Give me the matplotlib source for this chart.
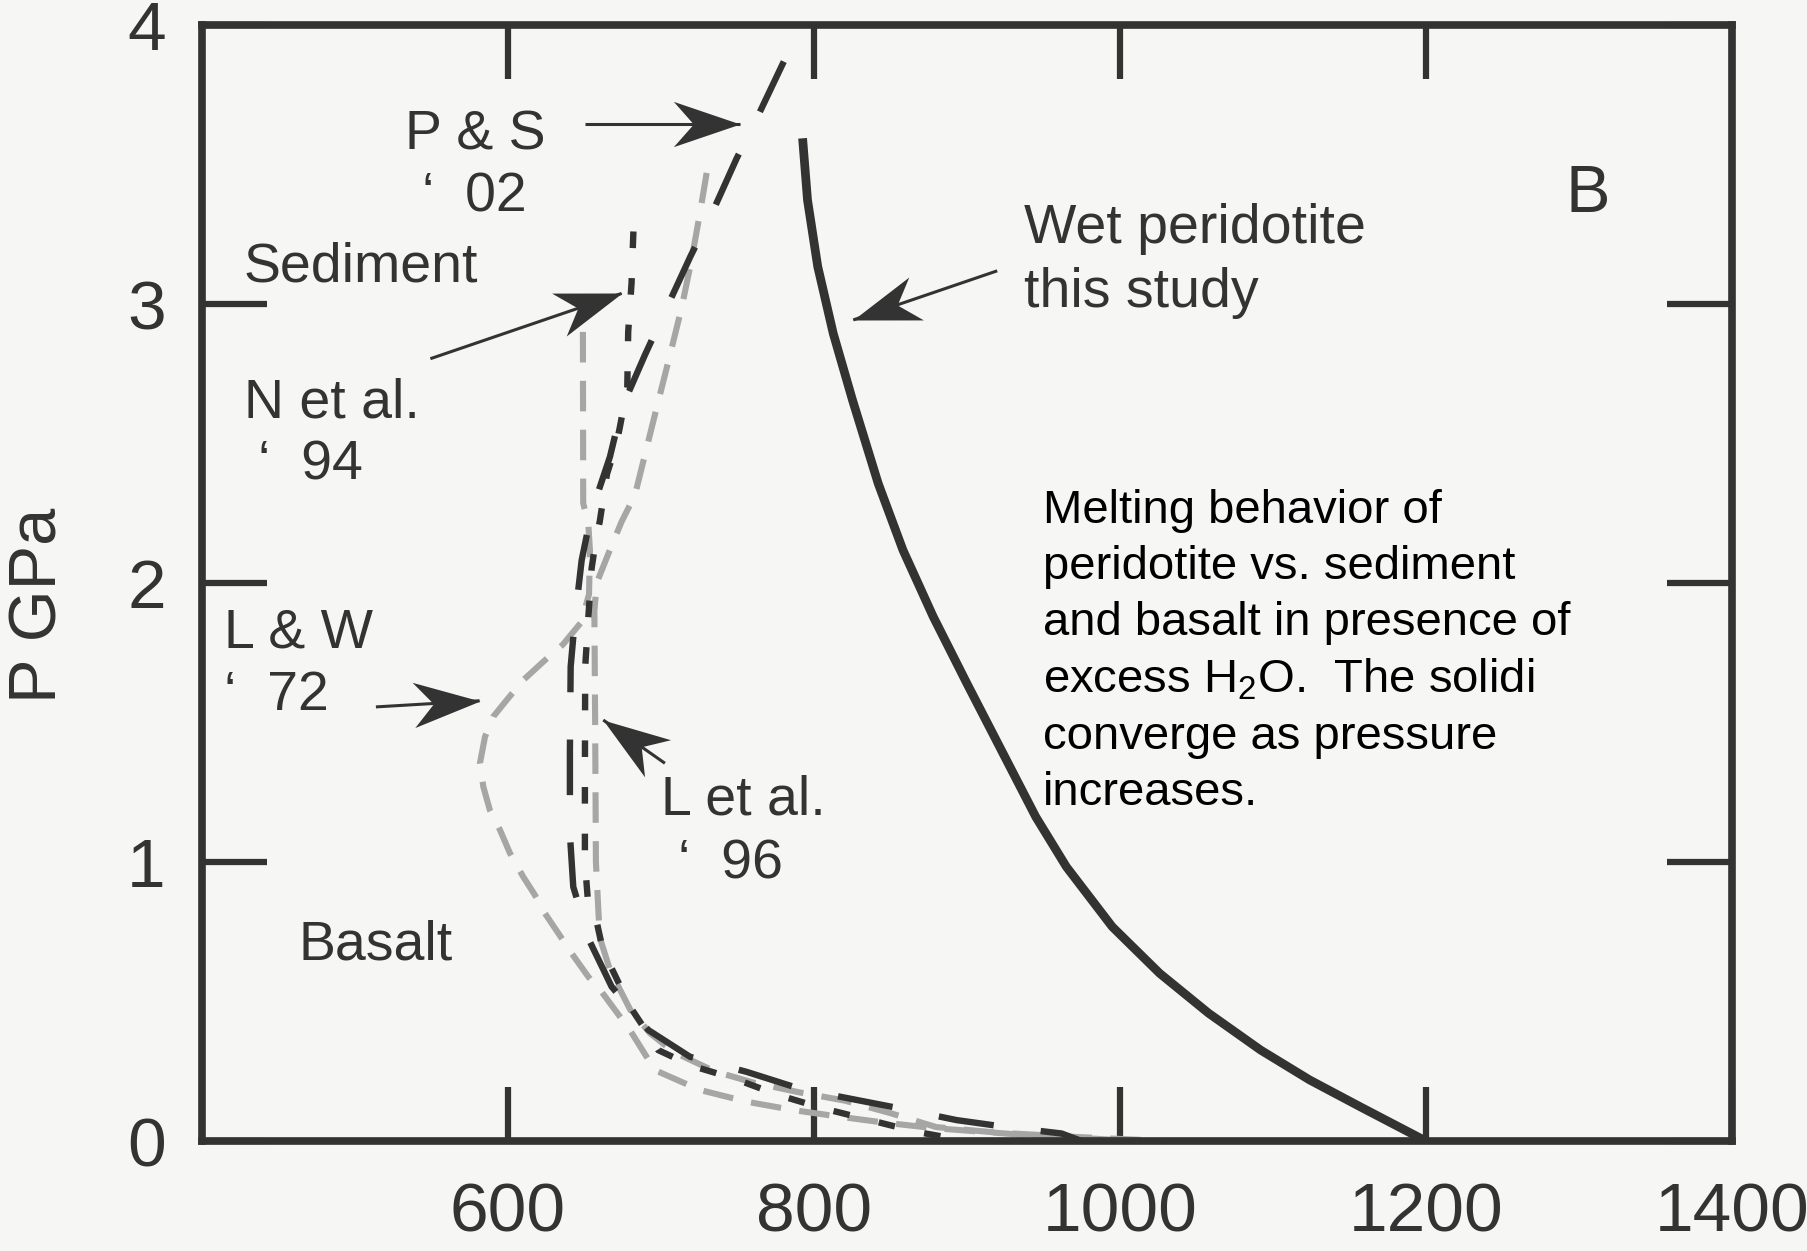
import matplotlib
matplotlib.use("Agg")
import numpy as np
import matplotlib.pyplot as plt
from matplotlib.path import Path
from matplotlib.markers import MarkerStyle
from matplotlib.transforms import Affine2D

plt.rcParams['font.family'] = ['Liberation Sans', 'DejaVu Sans']
plt.rcParams['mathtext.fontset'] = 'custom'
plt.rcParams['mathtext.rm'] = 'Liberation Sans'
plt.rcParams['mathtext.it'] = 'Liberation Sans:italic'

ink = "#333333"
grey = "#a6a6a6"
paper = "#f6f6f4"

# wet peridotite solidus, this study (T in C, P in GPa)
wet_T = [792.6, 795.8, 802.5, 812.6, 825.2, 842.0, 858.2, 878.0, 900.0, 922.5,
         945.0, 965.0, 995.0, 1026.0, 1058.0, 1092.0, 1124.0, 1157.0, 1200.0]
wet_P = [3.594, 3.373, 3.134, 2.895, 2.656, 2.357, 2.118, 1.879, 1.640, 1.401,
         1.162, 0.983, 0.768, 0.601, 0.458, 0.326, 0.219, 0.123, 0.0]

# P & S '02 sediment solidus
ps_T = [780.3, 764.0, 749.5, 733.8, 719.4, 703.3, 689.5, 674.3, 666.7, 654.7,
        648.2, 643.8, 641.0, 640.5, 640.5, 642.7, 653.6, 667.8, 691.7, 719.0,
        756.0, 786.5, 817.0, 856.2, 893.3, 924.8, 961.9, 975.0]
ps_P = [3.869, 3.681, 3.522, 3.331, 3.172, 2.981, 2.817, 2.626, 2.453, 2.256,
        2.082, 1.873, 1.700, 1.400, 1.100, 0.911, 0.714, 0.553, 0.398, 0.302,
        0.248, 0.195, 0.159, 0.117, 0.075, 0.051, 0.027, 0.0]

# N et al. '94 sediment solidus
ne_T = [682.0, 680.8, 678.6, 678.0, 673.2, 671.0, 664.7, 660.0, 657.8, 654.7,
        652.5, 650.5, 650.3, 650.3, 652.5, 658.0, 662.3, 667.8, 680.0, 692.8,
        698.2, 720.0, 747.3, 776.7, 806.0, 836.6, 867.0, 900.0]
ne_P = [3.260, 3.075, 2.900, 2.700, 2.560, 2.500, 2.390, 2.220, 2.166, 2.053,
        1.873, 1.700, 1.300, 1.000, 0.846, 0.786, 0.678, 0.619, 0.480, 0.374,
        0.326, 0.270, 0.225, 0.165, 0.117, 0.075, 0.033, 0.0]

# L et al. '96 basalt solidus
le_T = [729.9, 725.5, 720.0, 713.5, 705.9, 698.2, 690.6, 683.0, 674.3, 666.0,
        658.0, 656.5, 657.0, 657.5, 660.0, 666.7, 680.0, 692.8, 708.0, 735.0,
        760.0, 790.0, 820.0, 850.0, 880.0, 920.0, 970.0, 1030.0]
le_P = [3.470, 3.326, 3.158, 2.986, 2.817, 2.650, 2.483, 2.315, 2.220, 2.110,
        2.000, 1.900, 1.500, 1.000, 0.730, 0.613, 0.470, 0.387, 0.320, 0.250,
        0.210, 0.175, 0.145, 0.100, 0.050, 0.030, 0.015, 0.0]

# L & W '72 basalt solidus
lw_T = [649.0, 649.2, 652.5, 653.6, 653.0, 648.0, 636.0, 623.1, 610.0, 599.1,
        590.4, 585.0, 581.7, 583.9, 588.2, 594.8, 601.3, 610.0, 617.6, 624.2,
        635.1, 641.6, 652.5, 661.2, 679.7, 696.1, 725.5, 756.0, 786.5, 817.0,
        847.5, 879.0, 930.0, 1010.0]
lw_P = [2.900, 2.286, 2.214, 2.118, 1.960, 1.860, 1.780, 1.718, 1.652, 1.580,
        1.521, 1.449, 1.354, 1.270, 1.186, 1.115, 1.032, 0.947, 0.882, 0.816,
        0.727, 0.673, 0.589, 0.535, 0.398, 0.254, 0.183, 0.141, 0.111, 0.087,
        0.065, 0.046, 0.025, 0.0]

# labels: text, T, P, size
labels = [
    ("P & S", 532.5, 3.554, 40),
    ("\u2018  02", 543.8, 3.331, 40),
    ("Sediment", 427.5, 3.079, 40),
    ("N et al.", 427.5, 2.595, 40),
    ("\u2018  94", 436.8, 2.372, 40),
    ("L & W", 414.3, 1.768, 40),
    ("\u2018  72", 414.3, 1.545, 40),
    ("Basalt", 463.0, 0.652, 40),
    ("L et al.", 700.0, 1.170, 40),
    ("\u2018  96", 711.0, 0.942, 40),
    ("Wet peridotite", 937.6, 3.219, 40),
    ("this study", 937.6, 2.989, 40),
    ("B", 1291.5, 3.330, 48),
]

# arrows: tail -> tip
arrows = [
    ((650.3, 3.645), (751.6, 3.645)),
    ((549.3, 2.804), (674.3, 3.038)),
    ((919.8, 3.119), (825.7, 2.943)),
    ((513.7, 1.556), (581.5, 1.578)),
    ((702.6, 1.354), (662.3, 1.509)),
]

note = ("Melting behavior of\nperidotite vs. sediment\nand basalt in presence of\n"
        "excess H$_{\\rm 2}$O.  The solidi\nconverge as pressure\nincreases.")

fig = plt.figure(figsize=(18.08, 12.51), dpi=100, facecolor=paper)
ax = fig.add_axes([0.1117, 0.0879, 0.8462, 0.8921])
ax.set_facecolor(paper)
ax.set_xlim(400, 1400)
ax.set_ylim(0, 4)

ax.plot(lw_T, lw_P, color=grey, lw=4.4, dashes=(5.0, 3.0), zorder=2)
ax.plot(le_T, le_P, color=grey, lw=4.4, dashes=(5.0, 3.0), zorder=2)
ax.plot(ne_T, ne_P, color=ink, lw=4.6, dashes=(2.6, 4.7), zorder=3)
ax.plot(ps_T, ps_P, color=ink, lw=4.6, dashes=(8.7, 7.4), zorder=3)
ax.plot(wet_T, wet_P, color=ink, lw=6.3, solid_capstyle='butt',
        solid_joinstyle='round', zorder=4)

for txt, x, y, s in labels:
    ax.text(x, y, txt, fontsize=s, color=ink, ha='left', va='baseline')

# barbed arrow heads, tip at the origin pointing along +x
head = Path([(0, 0), (-1, 0.34), (-0.7, 0), (-1, -0.34), (0, 0)],
            [Path.MOVETO, Path.LINETO, Path.LINETO, Path.LINETO, Path.CLOSEPOLY])
for tail, tip in arrows:
    ax.plot([tail[0], tip[0]], [tail[1], tip[1]], color=ink, lw=2.2,
            solid_capstyle='butt', zorder=5)
    p0 = ax.transData.transform(tail)
    p1 = ax.transData.transform(tip)
    ang = np.degrees(np.arctan2(p1[1] - p0[1], p1[0] - p0[0]))
    mk = MarkerStyle(head, transform=Affine2D().rotate_deg(ang))
    ax.plot(tip[0], tip[1], marker=mk, markersize=96, color=ink,
            markeredgewidth=0, zorder=5)

ax.text(949.7, 2.337, note, fontsize=34, color='black', ha='left', va='top',
        linespacing=1.35)

ax.set_xticks([600, 800, 1000, 1200, 1400])
ax.set_yticks([0, 1, 2, 3, 4])
ax.tick_params(axis='x', direction='in', length=39, width=4.5, color=ink,
               labelsize=50, labelcolor=ink, pad=29, top=True)
ax.tick_params(axis='y', direction='in', length=47, width=4.5, color=ink,
               labelsize=50, labelcolor=ink, pad=26, right=True)
for sp in ax.spines.values():
    sp.set_linewidth(5.5)
    sp.set_color(ink)

fig.text(0.022, 0.516, "P GPa", rotation=90, fontsize=48, color=ink,
         ha='center', va='center')

fig.savefig("out.png", dpi=100, facecolor=paper)
